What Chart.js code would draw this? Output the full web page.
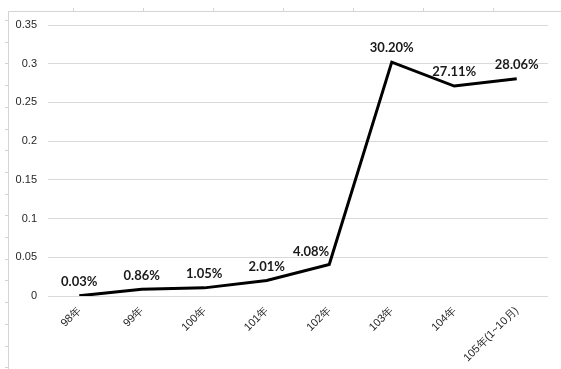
<!DOCTYPE html>
<html>
<head>
<meta charset="utf-8">
<script src="https://cdn.jsdelivr.net/npm/chart.js@4.4.1/dist/chart.umd.min.js"></script>
<style>
  html, body { margin: 0; padding: 0; background: #fff; }
  body { width: 561px; height: 369px; position: relative; overflow: hidden; }
  #frame { position: absolute; left: 8px; top: 11px; right: 0; bottom: 0;
           border-top: 1px solid #d4d4d4; border-left: 1px solid #d4d4d4; }
  #topticks { position: absolute; left: 8px; top: 8px; width: 553px; height: 3px;
              background: repeating-linear-gradient(to right, transparent 0 65px, #d4d4d4 65px 66px, transparent 66px 70px); }
  #leftticks { position: absolute; left: 5px; top: 11px; width: 3px; height: 358px;
               background: repeating-linear-gradient(to bottom, transparent 0 9px, #d4d4d4 9px 10px, transparent 10px 21.7px); }
  #wrap { position: absolute; left: 0; top: 0; width: 561px; height: 369px; }
</style>
</head>
<body>
<div id="frame"></div>
<div id="topticks"></div>
<div id="leftticks"></div>
<div id="wrap"><canvas id="c" width="561" height="369"></canvas></div>
<script>
const categories = ['98年', '99年', '100年', '101年', '102年', '103年', '104年', '105年(1~10月)'];
const values = [0.0003, 0.0086, 0.0105, 0.0201, 0.0408, 0.3020, 0.2711, 0.2806];
const valueLabels = ['0.03%', '0.86%', '1.05%', '2.01%', '4.08%', '30.20%', '27.11%', '28.06%'];
const yTicks = [0, 0.05, 0.1, 0.15, 0.2, 0.25, 0.3, 0.35];

const labelPlugin = {
  id: 'valueLabels',
  afterDatasetsDraw(chart) {
    const ctx = chart.ctx;
    const meta = chart.getDatasetMeta(0);
    ctx.save();
    ctx.font = 'bold 13px Lato, "Open Sans", sans-serif';
    ctx.fillStyle = '#1a1a1a';
    ctx.textBaseline = 'middle';
    meta.data.forEach((pt, i) => {
      if (i === 4) {
        ctx.textAlign = 'right';
        ctx.fillText(valueLabels[i], pt.x, pt.y - 13);
      } else {
        ctx.textAlign = 'center';
        ctx.fillText(valueLabels[i], pt.x, pt.y - 14);
      }
    });
    ctx.restore();
  }
};

new Chart(document.getElementById('c'), {
  type: 'line',
  data: {
    labels: categories,
    datasets: [{
      data: values,
      borderColor: '#000',
      borderWidth: 3,
      pointRadius: 0,
      tension: 0,
      fill: false
    }]
  },
  options: {
    responsive: false,
    animation: false,
    layout: { padding: { top: 25, right: 13, left: 0, bottom: 0 } },
    plugins: { legend: { display: false }, tooltip: { enabled: false } },
    scales: {
      x: {
        offset: true,
        grid: { display: false, drawTicks: false, offset: true },
        border: { display: false },
        ticks: {
          minRotation: 45, maxRotation: 45, autoSkip: false,
          padding: 8,
          color: '#262626',
          font: { family: '"Liberation Sans", Arial, sans-serif', size: 11 }
        },
        afterFit(scale) { scale.height = 73; }
      },
      y: {
        min: 0, max: 0.35,
        afterBuildTicks(scale) { scale.ticks = yTicks.map(v => ({ value: v })); },
        grid: { color: '#d9d9d9', lineWidth: 1, drawTicks: false },
        border: { display: false },
        ticks: {
          padding: 11,
          color: '#262626',
          font: { family: '"Liberation Sans", Arial, sans-serif', size: 11 },
          callback: v => String(parseFloat(v.toFixed(2)))
        },
        afterFit(scale) { scale.width = 48; }
      }
    }
  },
  plugins: [labelPlugin]
});
</script>
</body>
</html>
